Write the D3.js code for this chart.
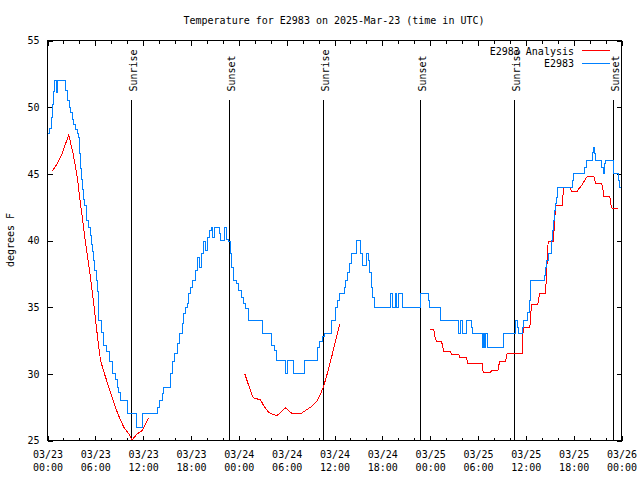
<!DOCTYPE html>
<html><head><meta charset="utf-8">
<script src="https://cdn.jsdelivr.net/npm/d3@7"></script>
<style>
body{margin:0;background:#fff}
svg{display:block}
text{font-family:"DejaVu Sans Mono",monospace;font-size:10px;fill:#000}
</style>
</head><body>
<svg id="c" width="640" height="480"></svg>
<script>
// ---------------- data ----------------
const titleText = "Temperature for E2983 on 2025-Mar-23 (time in UTC)";
const yLabel = "degrees F";
const seriesNames = ["E2983 Analysis", "E2983"];
const seriesColors = ["#ff0000", "#0080ff"];
const startISO = "2025-03-23T00:00:00Z";
const spanHours = 72;
const yTicks = [25, 30, 35, 40, 45, 50, 55];

// observed E2983 (hours since 03/23 00:00 UTC, value held until next reading)
const blueHours = [0.1,0.29,0.46,0.59,0.71,0.88,1.09,1.21,2.25,2.55,2.72,2.88,3.09,3.3,3.51,3.72,3.93,4.05,4.18,4.27,4.43,4.56,4.68,4.85,5.18,5.39,5.56,5.69,5.81,5.94,6.1,6.23,6.36,6.44,6.77,7.06,7.4,7.78,8.11,8.53,8.74,8.95,9.16,10.0,11.16,11.96,13.76,14.05,14.47,14.6,15.43,15.7,15.97,16.27,16.56,16.9,17.1,17.25,17.5,17.7,17.95,18.2,18.56,18.77,19.07,19.28,19.53,19.82,20.1,20.32,20.53,20.7,20.9,21.58,21.7,22.16,22.41,22.7,22.91,23.12,23.33,23.71,24.0,24.34,24.59,24.88,25.21,26.93,28.14,28.44,28.69,29.9,30.06,30.9,32.24,33.87,34.16,34.45,34.7,35.58,36.13,36.42,36.59,37.21,37.42,37.67,37.92,38.1,38.8,39.3,39.55,39.97,40.23,40.43,40.64,40.81,41.06,43.07,43.25,43.6,43.75,44.0,44.5,46.85,47.75,47.95,49.3,51.6,51.8,52.0,52.6,53.15,53.3,54.55,54.7,54.85,55.0,55.15,57.15,58.7,58.99,59.1,59.55,59.75,60.25,60.4,60.55,62.3,62.45,62.6,62.8,63.18,63.3,63.43,63.59,63.72,63.85,64.0,65.8,66.0,67.4,67.55,68.3,68.45,68.6,68.7,69.55,69.7,69.85,69.95,70.95,71.05,71.6,71.75,71.9];
const blueTemps = [48.0,48.4,49.2,50.2,51.2,52.0,51.1,52.0,51.25,50.5,50.0,49.6,49.1,48.7,48.3,48.0,47.7,46.5,45.4,44.6,43.8,43.1,42.6,41.5,41.0,40.4,39.7,39.2,38.5,37.75,37.0,36.2,35.2,34.0,33.1,32.1,31.7,30.9,30.0,29.6,29.0,28.6,28.0,27.0,26.0,27.0,27.5,28.0,28.5,29.0,30.0,30.9,31.5,32.25,33.0,33.75,34.5,35.0,35.25,36.0,36.5,37.0,37.75,38.75,38.0,39.0,39.9,39.25,40.25,40.75,41.0,40.25,41.0,40.5,40.0,41.0,40.1,39.9,39.0,38.0,37.0,36.75,36.25,35.75,35.25,34.9,34.0,33.0,32.1,31.75,31.0,30.0,31.0,30.0,31.0,32.0,32.4,32.8,33.0,34.0,35.0,35.5,36.0,36.5,37.0,37.6,38.25,39.0,40.0,39.0,38.1,39.0,38.5,37.6,36.5,35.75,35.0,36.0,35.0,36.0,35.0,36.0,35.0,36.0,35.5,35.0,34.0,33.0,34.0,33.0,34.0,33.5,33.0,32.0,33.0,32.0,33.0,32.0,33.0,34.0,33.5,33.0,33.5,34.0,34.6,35.5,37.0,37.4,38.0,38.5,39.0,40.0,40.75,41.5,42.25,42.75,43.25,44.0,44.5,45.0,45.5,46.0,46.6,47.0,46.5,46.0,45.5,45.0,45.75,46.0,45.5,45.0,44.5,44.0,44.0];

// E2983 Analysis (null = gap)
const redHours = [0.59,1.22,1.84,2.26,2.67,3.22,3.73,4.14,4.68,5.27,5.8,6.23,6.65,7.15,7.69,8.24,8.82,9.57,10.2,10.62,11.25,11.88,12.7,
  18.0,
  24.75,25.25,25.8,26.72,27.13,27.76,28.73,29.23,29.86,30.7,31.74,32.36,33.12,33.74,34.25,34.66,35.2,35.7,36.13,36.67,
  42.0,
  47.95,48.46,48.55,48.76,49.42,49.59,49.71,50.55,50.68,51.59,51.72,52.56,52.72,53.6,54.53,54.65,55.57,55.7,56.49,56.7,57.45,57.66,59.55,59.67,60.5,60.71,61.5,61.72,62.47,62.8,63.43,63.6,63.72,64.56,64.69,64.77,65.52,65.73,66.44,66.65,66.86,67.27,67.61,67.78,68.53,68.74,69.49,69.66,69.79,70.53,70.7,70.83,71.59];
const redTemps = [45.2,45.75,46.5,47.25,47.9,46.5,44.75,42.75,40.25,37.75,35.25,33.0,31.0,30.0,29.0,28.0,27.0,26.0,25.5,25.05,25.5,25.75,26.7,
  null,
  30.0,29.1,28.2,28.05,27.6,27.1,26.85,27.1,27.45,27.0,27.0,27.25,27.55,27.9,28.5,29.1,30.25,31.4,32.5,33.75,
  null,
  33.3,33.3,32.9,32.45,32.45,32.0,31.7,31.7,31.45,31.45,31.2,31.2,30.8,30.8,30.75,30.1,30.1,30.25,30.25,30.9,30.9,31.55,31.55,33.45,33.45,35.2,35.2,36.0,36.0,39.9,39.9,41.25,42.6,42.6,43.6,43.95,43.95,43.7,43.7,43.9,44.0,44.4,44.75,44.8,44.8,44.3,44.3,43.9,43.3,43.3,42.6,42.4,42.4];

const sunriseTimes = ["2025-03-23T10:35:00Z", "2025-03-24T10:38:00Z", "2025-03-25T10:37:00Z"];
const sunsetTimes = ["2025-03-23T22:52:00Z", "2025-03-24T22:51:00Z", "2025-03-25T22:57:00Z"];

// ---------------- chart ----------------
const W = 640, H = 480;
const L = 47, R = 621, T = 40, B = 440;
const t0 = new Date(startISO);
const t1 = d3.utcHour.offset(t0, spanHours);
const toDate = h => new Date(t0.getTime() + h * 3600e3);

const x = d3.scaleUtc().domain([t0, t1]).range([L, R]);
const y = d3.scaleLinear().domain([25, 55]).range([B, T]);

const svg = d3.select("#c");
const g = svg.append("g").attr("transform", "translate(0.5,0.5)");

const minorTicks = d3.utcHour.every(2).range(t0, d3.utcHour.offset(t1, 1));
const majorTicks = d3.utcHour.every(6).range(t0, d3.utcHour.offset(t1, 1));
const fmt = d3.utcFormat("%m/%d|%H:%M");

function clean(sel) {
  sel.attr("font-family", null).attr("font-size", null);
  sel.select(".domain").remove();
  sel.selectAll("line").attr("shape-rendering", "crispEdges").attr("stroke", "#000");
}

// bottom minor + major
g.append("g").attr("transform", `translate(0,${B})`)
  .call(d3.axisBottom(x).tickValues(minorTicks).tickSizeInner(-3).tickSizeOuter(0).tickFormat(""))
  .call(clean);
const bottomMajor = g.append("g").attr("transform", `translate(0,${B})`)
  .call(d3.axisBottom(x).tickValues(majorTicks).tickSizeInner(-5).tickSizeOuter(0).tickFormat(fmt))
  .call(clean);
bottomMajor.selectAll("text").each(function(d) {
  const parts = fmt(d).split("|");
  const t = d3.select(this).attr("y", 0).attr("dy", null).text(null);
  t.append("tspan").attr("x", 0).attr("y", 17).text(parts[0]);
  t.append("tspan").attr("x", 0).attr("y", 30).text(parts[1]);
});

// top mirror
g.append("g").attr("transform", `translate(0,${T})`)
  .call(d3.axisTop(x).tickValues(minorTicks).tickSizeInner(-3).tickSizeOuter(0).tickFormat(""))
  .call(clean);
g.append("g").attr("transform", `translate(0,${T})`)
  .call(d3.axisTop(x).tickValues(majorTicks).tickSizeInner(-5).tickSizeOuter(0).tickFormat(""))
  .call(clean);

// left / right
g.append("g").attr("transform", `translate(${L},0)`)
  .call(d3.axisLeft(y).tickValues(yTicks).tickSizeInner(-5).tickSizeOuter(0).tickPadding(8))
  .call(clean);
g.append("g").attr("transform", `translate(${R},0)`)
  .call(d3.axisRight(y).tickValues(yTicks).tickSizeInner(-5).tickSizeOuter(0).tickFormat(""))
  .call(clean);

// frame
g.append("rect").attr("x", L).attr("y", T).attr("width", R - L).attr("height", B - T)
  .attr("fill", "none").attr("stroke", "#000").attr("shape-rendering", "crispEdges");

// sunrise / sunset
const sunEvents = sunriseTimes.map(s => ({t: new Date(s), name: "Sunrise"}))
  .concat(sunsetTimes.map(s => ({t: new Date(s), name: "Sunset"})));
sunEvents.forEach(ev => {
  const px = Math.round(x(ev.t));
  g.append("line").attr("x1", px).attr("x2", px).attr("y1", 99).attr("y2", B)
    .attr("stroke", "#000").attr("shape-rendering", "crispEdges");
  svg.append("text").attr("transform", `translate(${px + 6},91.5) rotate(-90)`)
    .attr("text-anchor", "start").text(ev.name);
});

// series
const redData = redHours.map((h, i) => [toDate(h), redTemps[i]]);
const blueData = blueHours.map((h, i) => [toDate(h), blueTemps[i]]);

const redLine = d3.line().defined(d => d[1] != null).x(d => x(d[0])).y(d => y(d[1]));
const blueLine = d3.line().x(d => x(d[0])).y(d => y(d[1])).curve(d3.curveStepAfter);

g.append("path").attr("d", redLine(redData)).attr("fill", "none")
  .attr("stroke", seriesColors[0]).attr("stroke-width", 1).attr("shape-rendering", "crispEdges");
g.append("path").attr("d", blueLine(blueData)).attr("fill", "none")
  .attr("stroke", seriesColors[1]).attr("stroke-width", 1).attr("shape-rendering", "crispEdges");

// legend
seriesNames.forEach((name, i) => {
  const ly = 50 + i * 12.5;
  svg.append("text").attr("x", 574).attr("y", ly + 4.5).attr("text-anchor", "end").text(name);
  g.append("line").attr("x1", 581).attr("x2", 609).attr("y1", Math.round(ly)).attr("y2", Math.round(ly))
    .attr("stroke", seriesColors[i]).attr("shape-rendering", "crispEdges");
});

// title and y label
svg.append("text").attr("x", (L + R) / 2).attr("y", 24).attr("text-anchor", "middle").text(titleText);
svg.append("text").attr("transform", `translate(14,${(T + B) / 2}) rotate(-90)`)
  .attr("text-anchor", "middle").text(yLabel);
</script>
</body></html>
